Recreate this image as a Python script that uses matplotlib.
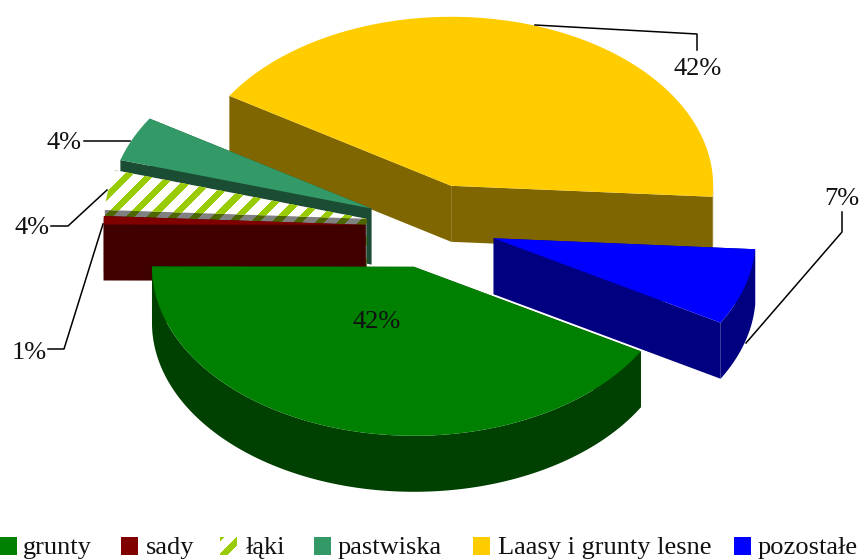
import numpy as np
import matplotlib
matplotlib.use("Agg")
import matplotlib.pyplot as plt
from matplotlib.patches import Polygon, Rectangle

categories = ["grunty", "sady", "łąki", "pastwiska", "Laasy i grunty lesne", "pozostałe"]
values = [41.7, 0.8, 3.8, 4.3, 42.1, 7.3]

top_colors = ["#008000", "#800000", "#FFFFFF", "#339966", "#FFCC00", "#0000FF"]
wall_colors = ["#004000", "#400000", "#808080", "#1A4D33", "#806600", "#000080"]
STRIPE_TOP, STRIPE_WALL = "#99CC00", "#4D6600"

# pie geometry (image pixels)
CX, CY, A, B, DEPTH, EXPLODE, START = 431, 226, 262, 169, 56, 0.25, -30.0
FONT = "Liberation Serif"
FS = 19

fig = plt.figure(figsize=(8.61, 5.59), dpi=100)
ax = fig.add_axes([0, 0, 1, 1])
ax.set_xlim(0, 861)
ax.set_ylim(559, 0)
ax.axis("off")


def pt(t, r=1.0):
    t = np.radians(t)
    return A * r * np.cos(t), -B * r * np.sin(t)


def stripes(patch, color, z):
    for k in range(-20, 20):
        s = 325 + k * 21.7
        ln, = ax.plot([s - 700, s + 300], [700, -300], color=color, lw=3.7,
                      antialiased=False, zorder=z, solid_capstyle="butt")
        ln.set_clip_path(patch)


# slice angles, clockwise from START
sweep = np.array(values) / sum(values) * 360
t_end = START - np.cumsum(sweep)
t_start = t_end + sweep
slices = []
for i in range(len(values)):
    t0, t1 = t_start[i], t_end[i]
    mid = (t0 + t1) / 2
    dx, dy = pt(mid, EXPLODE)
    slices.append((i, t0, t1, CX + dx, CY + dy))

# painter's order: back to front
order = [4, 3, 2, 1, 5, 0]
z = 1
for i in order:
    _, t0, t1, ax0, ay0 = slices[i]
    ts = np.linspace(t1, t0, 200)
    xs = ax0 + A * np.cos(np.radians(ts))
    ys = ay0 - B * np.sin(np.radians(ts))
    top = np.column_stack([np.r_[ax0, xs], np.r_[ay0, ys]])
    wall_polys = []
    for k in (-1, 0):
        wall_polys.append([(ax0, ay0), (xs[k], ys[k]), (xs[k], ys[k] + DEPTH), (ax0, ay0 + DEPTH)])
    front = np.sin(np.radians(ts)) <= 0
    if front.any():
        fx, fy = xs[front], ys[front]
        wall_polys.append(np.column_stack([np.r_[fx, fx[::-1]], np.r_[fy, fy[::-1] + DEPTH]]))
    for w in wall_polys:
        p = Polygon(w, closed=True, fc=wall_colors[i], ec="none", zorder=z)
        ax.add_patch(p)
        if categories[i] == "łąki":
            stripes(p, STRIPE_WALL, z + 0.5)
    z += 1
    p = Polygon(top, closed=True, fc=top_colors[i], ec="none", zorder=z)
    ax.add_patch(p)
    if categories[i] == "łąki":
        stripes(p, STRIPE_TOP, z + 0.5)
    z += 1

# data labels
labels = [f"{round(v)}%" for v in values]
label_pos = [(377, 322), (29, 353), (32, 228), (64, 143), (698, 69), (842, 199)]
leaders = [None,
           [(48, 349), (64, 349), (103, 224)],
           [(51, 226), (68, 226), (107, 190)],
           [(84, 141), (130, 141)],
           [(535, 25), (697, 34), (697, 50)],
           [(842, 212), (842, 232), (746, 343)]]
for lab, (x, y), ld in zip(labels, label_pos, leaders):
    ax.text(x, y, lab, family=FONT, fontsize=FS, ha="center", va="center",
            color="#111111", zorder=50)
    if ld:
        ax.plot(*zip(*ld), color="black", lw=1.1, zorder=49)

# legend
swatch_x = [0, 121, 220, 314, 473, 734]
text_x = [23, 146, 246, 338, 498, 758]
for i, cat in enumerate(categories):
    r = Rectangle((swatch_x[i], 537), 17, 18, fc=top_colors[i], ec="none", zorder=20)
    ax.add_patch(r)
    if cat == "łąki":
        for s in (757, 778):
            ln, = ax.plot([s - 700, s + 300], [700, -300], color=STRIPE_TOP, lw=3.7,
                          antialiased=False, zorder=21, solid_capstyle="butt")
            ln.set_clip_path(r)
    ax.text(text_x[i], 554, cat, family=FONT, fontsize=FS, ha="left", va="baseline",
            color="#111111", zorder=22)

fig.savefig("out.png", dpi=100)
